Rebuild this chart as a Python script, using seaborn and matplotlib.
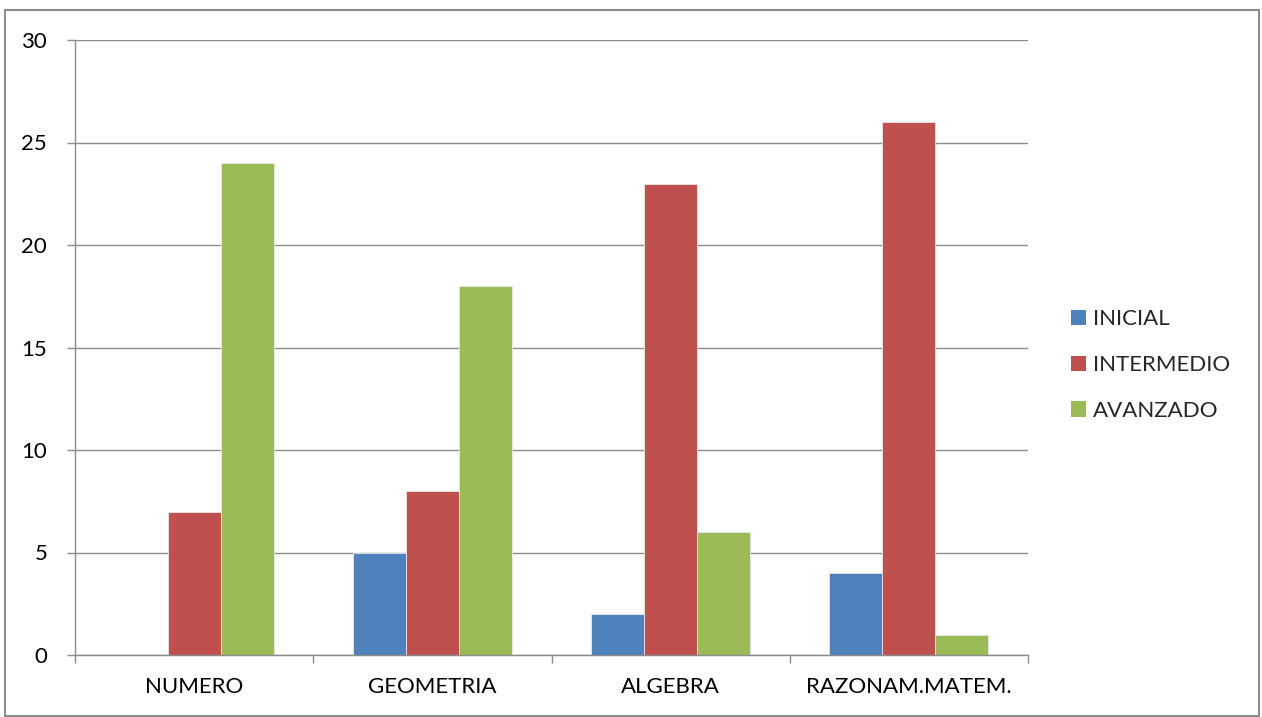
import matplotlib
matplotlib.use("Agg")
import matplotlib.pyplot as plt
import seaborn as sns
import pandas as pd
from matplotlib.patches import Rectangle, Patch

categories = ["NUMERO", "GEOMETRIA", "ALGEBRA", "RAZONAM.MATEM."]
series_names = ["INICIAL", "INTERMEDIO", "AVANZADO"]
inicial = [0, 5, 2, 4]
intermedio = [7, 8, 23, 26]
avanzado = [24, 18, 6, 1]
colors = ["#4F81BD", "#C0504D", "#9BBB59"]

rows = []
for name, vals in zip(series_names, [inicial, intermedio, avanzado]):
    for c, v in zip(categories, vals):
        rows.append({"cat": c, "serie": name, "val": v})
df = pd.DataFrame(rows)

sns.set_theme(style="white")
plt.rcParams["font.family"] = ["Lato", "DejaVu Sans"]

fig = plt.figure(figsize=(12.62, 7.17), dpi=100)
ax = fig.add_axes([75 / 1262, (717 - 655) / 717, (1028 - 75) / 1262, (655 - 40) / 717])

sns.barplot(data=df, x="cat", y="val", hue="serie", order=categories,
            hue_order=series_names, palette=colors, width=0.667, gap=0,
            saturation=1, ax=ax, legend=False, linewidth=0.6, edgecolor="#e8e8e8")

ax.set_ylim(0, 30)
ax.set_xlim(-0.5, 3.5)
ax.set_yticks(range(0, 31, 5))
ax.yaxis.grid(True, color="#8c8c8c", linewidth=1)
ax.set_axisbelow(True)
ax.set_xlabel("")
ax.set_ylabel("")
for s in ["top", "right"]:
    ax.spines[s].set_visible(False)
for s in ["left", "bottom"]:
    ax.spines[s].set_color("#8c8c8c")
    ax.spines[s].set_linewidth(1)

ax.tick_params(axis="y", which="major", length=6, color="#8c8c8c", width=1,
               labelsize=16, pad=14, left=True)
ax.tick_params(axis="x", which="major", length=0, labelsize=16, pad=16)
ax.set_xticks([-0.5, 0.5, 1.5, 2.5, 3.5], minor=True)
ax.tick_params(axis="x", which="minor", length=6, color="#8c8c8c", width=1, bottom=True)
for lbl in ax.get_yticklabels() + ax.get_xticklabels():
    lbl.set_color("black")

handles = [Patch(facecolor=c, edgecolor="none", label=n) for c, n in zip(colors, series_names)]
fig.legend(handles=handles, loc="center left", bbox_to_anchor=(1071 / 1262, 1 - 365 / 717),
           frameon=False, fontsize=16, handlelength=0.68, handleheight=0.68,
           handletextpad=0.32, labelspacing=1.16, borderaxespad=0, borderpad=0)

fig.patches.append(Rectangle((5 / 1262, 1 / 717), 1254 / 1262, 706 / 717,
                             transform=fig.transFigure, fill=False,
                             edgecolor="#8c8c8c", linewidth=1.5))

fig.savefig("out.png", dpi=100)
